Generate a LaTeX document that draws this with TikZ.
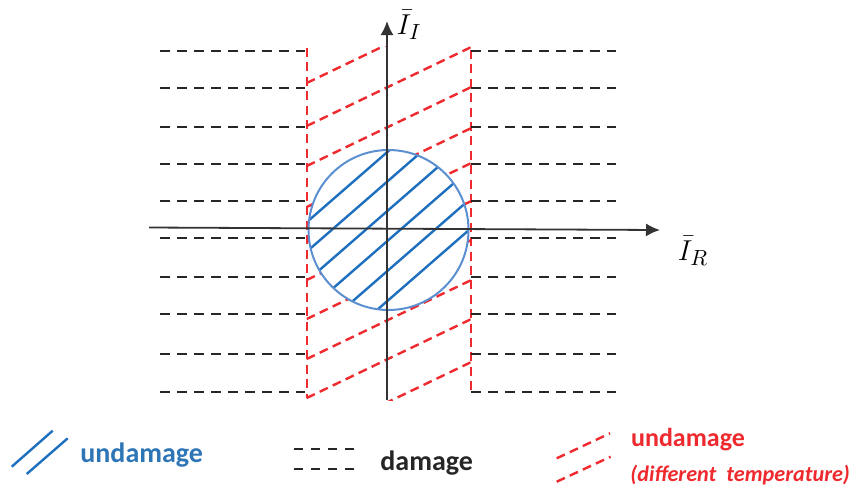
\documentclass[tikz,border=0pt]{standalone}
\usepackage{fontspec}
\newfontfamily\legfont{Carlito}
\usepackage{xcolor}
\usetikzlibrary{arrows.meta}
\definecolor{hatchblue}{HTML}{1F6FBF}
\definecolor{ringblue}{HTML}{5B8FD0}
\definecolor{legblue}{HTML}{2E75B6}
\definecolor{tempred}{HTML}{EE2A2F}
\definecolor{dmgblack}{HTML}{262626}
\definecolor{axisgray}{HTML}{333333}

\begin{document}
\begin{tikzpicture}[
    x=0.5pt, y=-0.5pt,
    >={Latex[length=7pt,width=6.5pt]},
    axis/.style={draw=axisgray, line width=0.9pt},
    dmg/.style={draw=dmgblack, line width=1.4pt, dash pattern=on 5pt off 3.5pt},
    hot/.style={draw=tempred, line width=1.2pt, dash pattern=on 4.5pt off 2.7pt},
    hatch/.style={draw=hatchblue, line width=1.2pt},
    ring/.style={draw=ringblue, line width=1pt},
    axlabel/.style={inner sep=0pt, font=\fontsize{15}{18}\selectfont},
    legtext/.style={anchor=base west, inner sep=0pt, font=\legfont\bfseries\fontsize{14}{16}\selectfont}
]
\useasboundingbox (0,0) rectangle (851,488);
\coordinate (O) at (388.5,230);

% band at a different temperature
\begin{scope}
  \clip (306.7,46) rectangle (470.7,400);
  \foreach \yl in {83,126,166,207,242,280,319,359,398,441}
    \draw[hot] (306.7,\yl) -- ++(164,-78.7);
\end{scope}
\draw[hot] (306.7,48) -- (306.7,398);
\draw[hot] (470.7,50) -- (470.7,395);

% damaged region
\foreach \yd in {51,88,127,164,201,238,277,314,354,392} {
  \draw[dmg] (160,\yd) -- (305,\yd);
  \draw[dmg] (471,\yd) -- (616,\yd);
}

% undamaged disc
\fill[white] (O) circle[radius=80];
\begin{scope}
  \clip (O) circle[radius=80];
  \foreach \yh in {151,180.5,210,240,270,300}
    \draw[hatch] (288.5,\yh+87) -- (488.5,\yh-87);
\end{scope}
\draw[ring] (O) circle[radius=80];

% axes
\draw[axis,->] (149,227.5) -- (660,230);
\draw[axis,->] (387,400) -- (387,21);
\node[axlabel] (IR) at (693,251) {$\bar{I}_R$};
\node[axlabel] (II) at (409,25) {$\bar{I}_I$};

% legend
\draw[hatch] (11.7,466.7) -- (52.7,430.7);
\draw[hatch] (26.7,474) -- (67.7,438.3);
\node[legtext, text=legblue] (legU) at (80,462.7) {undamage};

\draw[dmg, line width=1pt, dash pattern=on 4.25pt off 4.25pt] (294,449) -- (355,449);
\draw[dmg, line width=1pt, dash pattern=on 4.25pt off 4.25pt] (294,469) -- (355,469);
\node[legtext, text=dmgblack] (legD) at (380,470) {damage};

\draw[hot] (556.7,458.3) -- (610,433.3);
\draw[hot] (556.7,481.7) -- (610.7,456.7);
\node[legtext, text=tempred, font=\legfont\bfseries\fontsize{13}{15}\selectfont] (legT) at (630.7,446.7) {undamage};
\node[legtext, text=tempred, font=\legfont\bfseries\itshape\fontsize{11.1}{13}\selectfont] (legTT) at (630,481.7) {(different\ \ temperature)};
\end{tikzpicture}
\end{document}
